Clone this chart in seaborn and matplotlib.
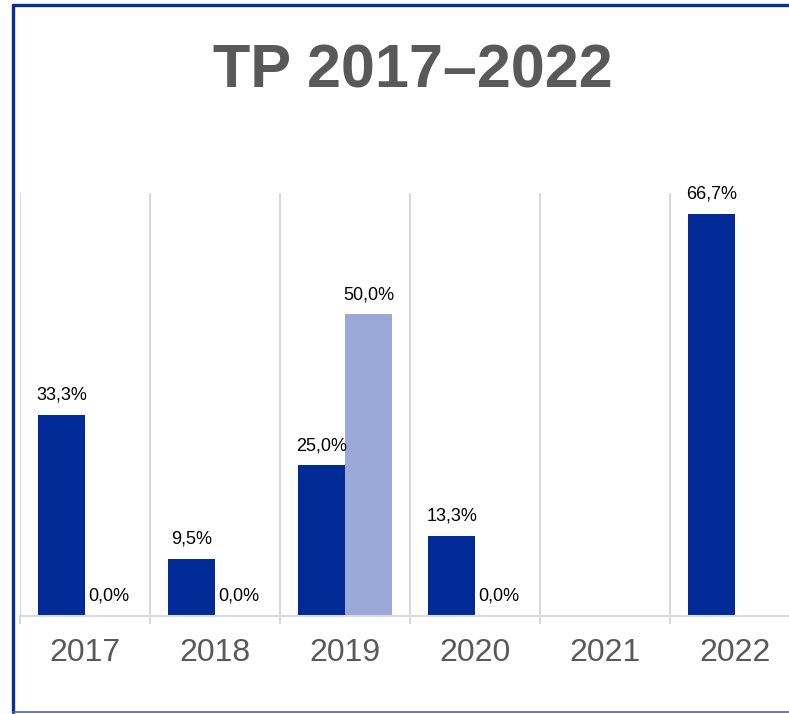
import numpy as np
import pandas as pd
import matplotlib
matplotlib.use("Agg")
import matplotlib.pyplot as plt
import seaborn as sns
from matplotlib.lines import Line2D

years = ["2017", "2018", "2019", "2020", "2021", "2022"]
series_names = ["A", "B"]
dark_values = [33.3, 9.5, 25.0, 13.3, np.nan, 66.7]
light_values = [0.0, 0.0, 50.0, 0.0, np.nan, np.nan]
title_text = "TP 2017\u20132022"

DARK = "#002a96"
LIGHT = "#9aa9d8"
GRAY_TEXT = "#595959"
GRID = "#d9d9d9"
FRAME = "#0a2d9a"

sns.set_theme(style="white")
plt.rcParams["font.family"] = ["Liberation Sans", "DejaVu Sans"]

df = pd.DataFrame({
    "year": years * 2,
    "series": [series_names[0]] * len(years) + [series_names[1]] * len(years),
    "value": dark_values + light_values,
})

fig = plt.figure(figsize=(7.89, 7.14), dpi=100)
ax = fig.add_axes([20 / 789, 98 / 714, 780 / 789, 423 / 714])

sns.barplot(
    data=df, x="year", y="value", hue="series", order=years,
    hue_order=series_names, palette=[DARK, LIGHT], width=0.72,
    saturation=1, ax=ax, legend=False, errorbar=None, linewidth=0,
)

ax.set_ylim(0, 70.1)
ax.set_xlim(-0.5, len(years) - 0.5)
ax.set_xlabel("")
ax.set_ylabel("")
ax.set_yticks([])

# value labels
for cont in ax.containers:
    labels = []
    for v in cont.datavalues:
        labels.append("" if np.isnan(v) else f"{v:.1f}%".replace(".", ","))
    ax.bar_label(cont, labels=labels, padding=8, fontsize=13, color="black")

# category separators
bounds = np.arange(len(years) + 1) - 0.5
for b in bounds:
    ax.axvline(b, color=GRID, lw=1.5, zorder=0)
ax.set_xticks(bounds, minor=True)
ax.tick_params(axis="x", which="minor", length=6, width=1.5, color=GRID, bottom=True)
ax.tick_params(axis="x", which="major", length=0, pad=16, labelsize=23,
               labelcolor=GRAY_TEXT)

for side in ["top", "left", "right"]:
    ax.spines[side].set_visible(False)
ax.spines["bottom"].set_color(GRID)
ax.spines["bottom"].set_linewidth(1.5)

fig.text(413 / 789, 1 - 88 / 714, title_text, ha="center", va="baseline",
         fontsize=44, fontweight="bold", color=GRAY_TEXT)

# outer frame (cropped on the right)
fig.add_artist(Line2D([13 / 789, 13 / 789], [1 - 5 / 714, 1 - 712 / 714],
                      transform=fig.transFigure, color=FRAME, lw=2.4))
fig.add_artist(Line2D([13 / 789, 1.0], [1 - 5 / 714, 1 - 5 / 714],
                      transform=fig.transFigure, color=FRAME, lw=2.4))
fig.add_artist(Line2D([13 / 789, 1.0], [1 - 712 / 714, 1 - 712 / 714],
                      transform=fig.transFigure, color="#4a62b0", lw=1.2))

fig.savefig("out.png", dpi=100)
